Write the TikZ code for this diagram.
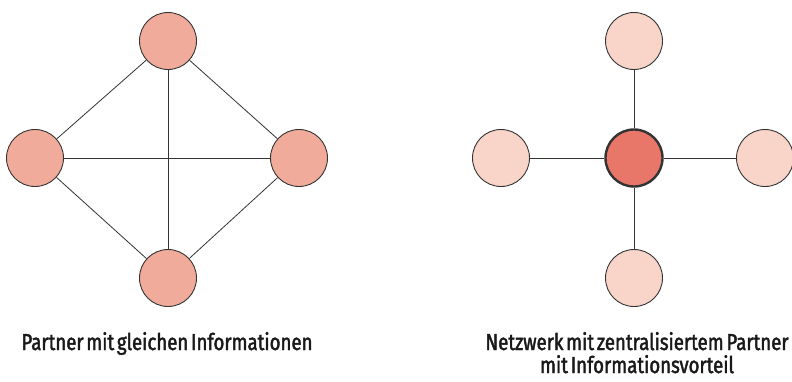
\documentclass[tikz,border=0pt]{standalone}
\usepackage{fontspec}
\newfontfamily\captionfont[FakeStretch=0.81, FakeBold=1.8, WordSpace=0.55]{Fira Sans}
\definecolor{peer}{HTML}{F1AB9B}
\definecolor{hub}{HTML}{E8776A}
\definecolor{leaf}{HTML}{F8D4C9}
\definecolor{edge}{HTML}{333333}
\tikzset{
  x=1pt, y=-1pt,
  partner/.style={circle, draw=edge, line width=0.9pt, minimum size=57pt, inner sep=0pt},
  peernode/.style={partner, fill=peer},
  leafnode/.style={partner, fill=leaf},
  hubnode/.style={partner, fill=hub, line width=2.4pt},
  link/.style={draw=edge, line width=0.8pt},
  caption/.style={font=\captionfont\fontsize{23}{23}\selectfont, text=black!90, inner sep=0pt, align=center}
}
\begin{document}
\begin{tikzpicture}
  \useasboundingbox (0,0) rectangle (792,381);

  % fully meshed group of equal partners
  \node[peernode] (t) at (168,41) {};
  \node[peernode] (l) at (35,158) {};
  \node[peernode] (r) at (299,158) {};
  \node[peernode] (b) at (168,278) {};
  \draw[link] (t) -- (l);
  \draw[link] (t) -- (r);
  \draw[link] (t) -- (b);
  \draw[link] (l) -- (r);
  \draw[link] (l) -- (b);
  \draw[link] (r) -- (b);

  % star network around a central partner
  \node[leafnode] (nt) at (634,41) {};
  \node[leafnode] (nl) at (501,158) {};
  \node[leafnode] (nr) at (765,158) {};
  \node[leafnode] (nb) at (634,278) {};
  \node[hubnode] (c) at (634,158) {};
  \draw[link] (c) -- (nt);
  \draw[link] (c) -- (nl);
  \draw[link] (c) -- (nr);
  \draw[link] (c) -- (nb);

  % captions
  \node[caption, anchor=base] (capl) at (167,350) {Partner mit gleichen Informationen};
  \node[caption, anchor=base] (capr1) at (637,350) {Netzwerk mit zentralisiertem Partner};
  \node[caption, anchor=base] (capr2) at (637,373) {mit Informationsvorteil};
\end{tikzpicture}
\end{document}
